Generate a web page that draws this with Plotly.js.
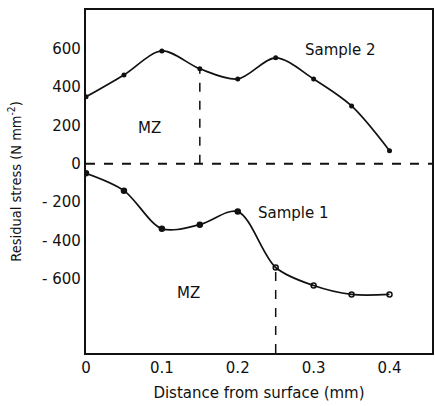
<!DOCTYPE html>
<html><head><meta charset="utf-8">
<script src="https://cdn.plot.ly/plotly-3.0.1.min.js"></script>
<style>html,body{margin:0;padding:0;background:#fff}#c{width:435px;height:406px}</style>
</head><body><div id="c"></div>
<script>
const depth = [0, 0.05, 0.1, 0.15, 0.2, 0.25, 0.3, 0.35, 0.4];
const sample2 = [348, 462, 587, 494, 441, 551, 441, 301, 68];
const sample1 = [-50, -140, -338, -317, -249, -540, -634, -680, -680];
const sample1Symbols = ['circle','circle','circle','circle','circle','circle-open','circle-open','circle-open','circle-open'];
const yTickVals = [600, 400, 200, 0, -200, -400, -600];
const yTickText = ['600', '400', '200', '0', '- 200', '- 400', '- 600'];
const xTickVals = [0, 0.1, 0.2, 0.3, 0.4];
const xTickText = ['0', '0.1', '0.2', '0.3', '0.4'];
const zeroLineX = [0, 0.456];
const mzBound2 = 0.15, mzBound1 = 0.25;
const yMin = -985, yMax = 800;

const font = {family: 'DejaVu Sans, sans-serif', size: 15, color: '#111'};
const yTitleFont = {family: 'DejaVu Sans Condensed, DejaVu Sans, sans-serif', size: 14.5, color: '#111'};
const traces = [
  {x: zeroLineX, y: [0, 0], mode: 'lines', line: {color: '#111', width: 1.8, dash: 'dash'}, hoverinfo: 'skip'},
  {x: [mzBound2, mzBound2], y: [0, sample2[3]], mode: 'lines', line: {color: '#111', width: 1.5, dash: 'dash'}},
  {x: [mzBound1, mzBound1], y: [yMin, sample1[5]], mode: 'lines', line: {color: '#111', width: 1.5, dash: 'dash'}},
  {x: depth, y: sample2, mode: 'lines+markers', line: {color: '#111', width: 1.7, shape: 'spline', smoothing: 0.9},
   marker: {color: '#111', size: 5, symbol: 'circle'}},
  {x: depth, y: sample1, mode: 'lines+markers', line: {color: '#111', width: 1.7, shape: 'spline', smoothing: 0.9},
   marker: {color: '#111', size: 5, symbol: sample1Symbols, line: {color: '#111', width: 1.5}}}
];
const layout = {
  width: 435, height: 406, showlegend: false,
  paper_bgcolor: '#fff', plot_bgcolor: '#fff',
  margin: {l: 86, r: 3, t: 10, b: 53},
  font: font,
  xaxis: {range: [0, 0.456], tickvals: xTickVals, ticktext: xTickText, showgrid: false, zeroline: false,
          showline: true, mirror: true, linecolor: '#111', linewidth: 2.2, ticks: '',
          automargin: false,
          title: {text: 'Distance from surface (mm)', font: font, standoff: 11}},
  yaxis: {range: [yMin, yMax], tickvals: yTickVals, ticktext: yTickText, showgrid: false, zeroline: false,
          showline: true, mirror: true, linecolor: '#111', linewidth: 2.2, ticks: '',
          automargin: false,
          title: {text: 'Residual stress (N mm<sup>-2</sup>)', font: yTitleFont, standoff: 17}},
  annotations: [
    {x: 0.335, y: 592, text: 'Sample 2', showarrow: false, font: font},
    {x: 0.274, y: -255, text: 'Sample 1', showarrow: false, font: font},
    {x: 0.084, y: 187, text: 'MZ', showarrow: false, font: font},
    {x: 0.135, y: -675, text: 'MZ', showarrow: false, font: font}
  ]
};
Plotly.newPlot('c', traces, layout, {displayModeBar: false, staticPlot: true});
</script></body></html>
